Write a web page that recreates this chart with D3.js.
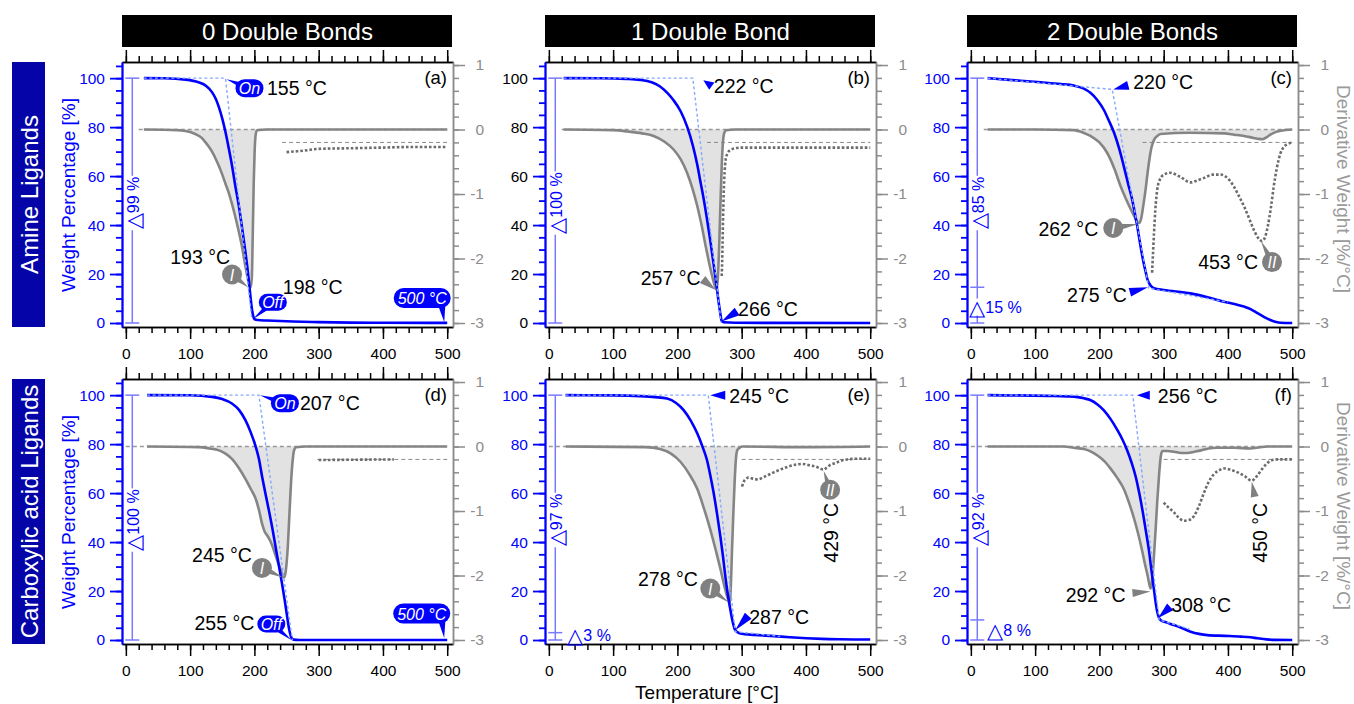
<!DOCTYPE html>
<html><head><meta charset="utf-8">
<script src="https://cdn.jsdelivr.net/npm/d3@7"></script>
<style>body{margin:0;background:#fff;overflow:hidden}svg{display:block}</style>
</head><body><svg id="c" width="1354" height="704"></svg>
<script>
// ---------------- data ----------------
const columnTitles = ["0 Double Bonds", "1 Double Bond", "2 Double Bonds"];
const rowTitles = ["Amine Ligands", "Carboxylic acid Ligands"];
const panelLetters = ["(a)", "(b)", "(c)", "(d)", "(e)", "(f)"];
const xTicks = [0, 100, 200, 300, 400, 500];
const yLeftTicks = [0, 20, 40, 60, 80, 100];
const yRightTicks = [1, 0, -1, -2, -3];

// TGA weight curves [T, weight %]
const tga_a = [[28,100],[60,99.95],[93,99.4],[113,98.3],[125,96.8],[134,94.3],[140,91.5],[145,88],[150,83.5],[155,78],[160,71.5],[165,64.5],[170,56.5],[176,47.5],[181,38.5],[186,29],[190,20.5],[193,13],[196,6],[198,3],[200,1.6],[205,1.2],[220,1.0],[260,0.6],[300,0.35],[350,0.15],[400,0.1],[500,0.05]];
const tga_b = [[23,100],[80,99.95],[120,99.7],[142,99.3],[160,98.3],[173,96.6],[185,93.8],[194,91],[205,86.5],[215,80.3],[224,72.5],[231,64.5],[236,57.5],[241,50.5],[246,42.5],[251,34],[255,26.5],[259,19],[262,13],[265,7],[267,3.5],[269,0.8],[272,0.3],[290,0.1],[500,0]];
const tga_c = [[26,100],[60,99.3],[109,98.3],[140,97.6],[160,97],[175,95.8],[186,94],[197,91],[207,87],[215,82.5],[223,77.6],[231,71],[238,64],[245,56.5],[251,50.4],[255,45],[259,39.4],[263,33],[267,27],[271,22],[275,17.6],[280,15.2],[285,14.2],[300,13.5],[342,12.1],[370,10.4],[394,8.7],[410,7.8],[425,6.7],[436,5.6],[446,4],[456,2.5],[466,1.2],[475,0.4],[482,0.1],[500,0]];
const tga_d = [[33,100],[100,99.95],[134,99.3],[150,98.4],[165,96.6],[176,94],[186,89.8],[194,85],[202,79],[207,74],[212,66.7],[217,60],[222.5,53],[228,45.5],[233,38],[238,30.5],[243,23],[247,16.5],[251,9.5],[254,4.5],[256,2.2],[258,0.7],[261,0.15],[270,0],[500,0]];
const tga_e = [[26,100],[100,99.9],[142,99.6],[165,99.2],[184,98.6],[198,96.8],[210,93.8],[221,89.5],[231,84.3],[239,79],[246,73.5],[251,67.5],[256.5,59.9],[262,51],[267,42],[271,34],[274.6,25.9],[278.5,18.5],[282.5,12.2],[286,7.5],[290,4],[294,3.1],[298,2.7],[320,2.1],[350,1.6],[375,1.1],[401,0.7],[425,0.45],[453,0.3],[500,0.2]];
const tga_f = [[26,100],[120,99.7],[150,99.5],[166,99.2],[176,98.7],[186.5,97.9],[197,96.2],[207,93.8],[218,90],[228,85.7],[236,81.8],[243,77.6],[250,72.5],[256.5,66.7],[262,60],[267,53],[272,45],[277,36.7],[281,28.5],[285,20.4],[288,14.5],[290.5,10.9],[293,8.9],[296,8],[305,7.1],[316,6.1],[330,4.7],[342,3.4],[355,2.5],[368,2],[395,1.7],[420,1.4],[435,1.1],[446,0.7],[460,0.25],[472,0.05],[500,0]];

// DTG derivative curves [T, %/°C]
const dtg_a = [[28,0],[80,-0.01],[100,-0.04],[110,-0.08],[118,-0.13],[124,-0.2],[130,-0.28],[135,-0.36],[140,-0.46],[145,-0.57],[150,-0.7],[155,-0.84],[160,-0.98],[165,-1.15],[170,-1.34],[175,-1.55],[180,-1.78],[186,-2.12],[190,-2.32],[194,-2.45],[196,-2.3],[197.5,-1.6],[199,-0.8],[200.5,-0.3],[202,-0.08],[204,-0.01],[220,0],[500,0]];
const dtg_b = [[23,0],[100,-0.01],[122,-0.03],[145,-0.06],[163,-0.1],[180,-0.19],[194,-0.31],[205,-0.46],[215,-0.67],[223,-0.9],[231,-1.19],[238,-1.5],[244,-1.81],[249,-2.05],[254,-2.27],[258,-2.42],[261,-2.48],[263,-2.3],[265,-1.8],[267,-1.15],[269,-0.55],[271,-0.18],[273,-0.05],[276,-0.01],[290,0],[500,0]];
const dtg_c = [[26,0],[100,0],[160,-0.01],[175,-0.05],[186,-0.1],[200,-0.2],[212,-0.36],[223,-0.6],[233,-0.88],[241,-1.07],[249,-1.24],[255,-1.36],[259,-1.43],[262,-1.45],[265,-1.38],[268,-1.2],[272,-0.92],[275,-0.67],[278,-0.45],[281,-0.28],[285,-0.16],[290,-0.1],[295,-0.07],[340,-0.05],[394,-0.06],[410,-0.08],[425,-0.1],[440,-0.13],[448,-0.145],[454,-0.15],[460,-0.12],[466,-0.08],[474,-0.04],[482,-0.02],[500,0]];
const dtg_d = [[33,0],[113,-0.01],[130,-0.03],[145,-0.06],[155,-0.11],[165,-0.19],[175,-0.32],[186,-0.5],[195,-0.67],[202,-0.81],[207,-0.98],[212,-1.2],[216,-1.32],[220,-1.38],[225,-1.47],[230,-1.6],[235,-1.75],[240.5,-1.9],[244,-2.0],[246,-2.03],[248,-1.98],[250,-1.82],[252,-1.55],[254,-1.15],[256,-0.75],[258,-0.4],[260,-0.17],[262,-0.05],[265,-0.01],[280,0],[500,0]];
const dtg_e = [[26,0],[150,-0.01],[173,-0.04],[190,-0.11],[205,-0.24],[218,-0.42],[231,-0.66],[241,-0.95],[251,-1.28],[260,-1.62],[267,-1.9],[272,-2.12],[277,-2.31],[280,-2.4],[281.5,-2.42],[283,-2.2],[285,-1.6],[287,-1.05],[289,-0.56],[291,-0.2],[293,-0.06],[297,-0.02],[301,0],[400,-0.01],[500,0]];
const dtg_f = [[26,0],[145,0],[160,-0.02],[176,-0.04],[187,-0.08],[197,-0.14],[208,-0.23],[218,-0.35],[228,-0.49],[238,-0.66],[246,-0.87],[254,-1.12],[261,-1.38],[267,-1.64],[271,-1.83],[275,-2.0],[278,-2.15],[279.5,-2.2],[281.5,-2.12],[283.5,-1.9],[285.5,-1.6],[287.7,-1.25],[290,-0.85],[293,-0.42],[295.5,-0.15],[298,-0.07],[305,-0.07],[316,-0.08],[327,-0.1],[337,-0.1],[348,-0.08],[358,-0.06],[370,-0.03],[383,-0.02],[410,-0.02],[435,-0.03],[450,-0.01],[461,0],[500,0]];

// magnified DTG (dotted) [T, value]
const mag_a = [[250,-0.35],[262,-0.34],[275,-0.33],[290,-0.31],[300,-0.3],[350,-0.29],[400,-0.28],[450,-0.27],[500,-0.27]];
const mag_b = [[269,-2.27],[270,-1.9],[271,-1.4],[272,-1.0],[273.5,-0.65],[275,-0.47],[278,-0.37],[282,-0.32],[290,-0.29],[300,-0.28],[400,-0.28],[500,-0.28]];
const mag_c = [[282,-2.22],[283.5,-1.9],[285,-1.6],[287,-1.25],[290,-0.93],[294,-0.78],[300,-0.7],[310,-0.67],[325,-0.73],[342,-0.82],[352,-0.79],[363,-0.75],[376,-0.7],[389,-0.7],[400,-0.76],[409,-0.88],[418,-1.05],[425,-1.19],[433,-1.38],[440,-1.55],[447,-1.68],[453,-1.73],[458,-1.66],[462,-1.5],[467,-1.2],[471,-0.9],[476,-0.6],[482,-0.36],[487,-0.27],[492,-0.23],[500,-0.2]];
const mag_d = [[300,-0.21],[350,-0.205],[417,-0.2]];
const mag_e = [[300.6,-0.62],[303,-0.55],[307,-0.5],[311,-0.48],[318,-0.5],[325,-0.51],[335,-0.47],[350,-0.4],[370,-0.32],[385,-0.28],[395,-0.27],[405,-0.29],[415,-0.31],[422,-0.34],[427.5,-0.36],[432,-0.33],[437,-0.29],[445,-0.26],[455,-0.22],[464,-0.2],[480,-0.19],[500,-0.19]];
const mag_f = [[300,-0.87],[308,-0.95],[316,-1.02],[323,-1.1],[331,-1.15],[339,-1.14],[347,-1.08],[355,-0.92],[363,-0.71],[370,-0.55],[378,-0.43],[386,-0.37],[394,-0.34],[404,-0.36],[415,-0.4],[426,-0.46],[437,-0.53],[445,-0.46],[453,-0.35],[460,-0.27],[466,-0.22],[475,-0.2],[482,-0.2],[500,-0.2]];

// onset / offset tangent constructions [T, weight %]
const tan_a = [[28,100],[155,100],[196,1.5]];
const tan_b = [[23,100],[224,100],[268,0.2]];
const tan_c = [[26,100],[220,95.4],[277,14.2],[400,8.5]];
const tan_d = [[33,100],[207,100],[259,0]];
const tan_e = [[26,100],[248,100],[290,3.4],[360,1.5]];
const tan_f = [[26,100],[252,100],[293,8.2],[340,4.5]];

const magBaseValue = -0.2;
const magBaseStart = [243, 246, 267, 298, 300, 300];
const zeroLineStart = [20, 20, 20, 0, 0, 0];

const lossLevels = [[100,0],[100,0],[100,14.6,0],[100,0],[100,3,0],[100,8.2,0]];
const totalLoss = ["99 %", "100 %", "85 %", "100 %", "97 %", "92 %"];
const residueLoss = [null, null, "15 %", null, "3 %", "8 %"];

const onsetLabels = ["155 °C", "222 °C", "220 °C", "207 °C", "245 °C", "256 °C"];
const offsetLabels = ["198 °C", "266 °C", "275 °C", "255 °C", "287 °C", "308 °C"];
const peak1Labels = ["193 °C", "257 °C", "262 °C", "245 °C", "278 °C", "292 °C"];
const peak2Labels = [null, null, "453 °C", null, "429 °C", "450 °C"];
const endLabel = "500 °C";

// ---------------- drawing ----------------
const FONT = '"Liberation Sans", Arial, Helvetica, sans-serif';
const BLUE = '#0000ff', GRAY = '#858585', RGRAY = '#8c8c8c';
const svg = d3.select('#c').attr('font-family', FONT);
const colLeft = [122, 545, 967], rowTop = [62, 379], FW = 331, FH = 265;

const panels = [
  {tga:tga_a, dtg:dtg_a, mag:mag_a, tan:tan_a},
  {tga:tga_b, dtg:dtg_b, mag:mag_b, tan:tan_b},
  {tga:tga_c, dtg:dtg_c, mag:mag_c, tan:tan_c},
  {tga:tga_d, dtg:dtg_d, mag:mag_d, tan:tan_d},
  {tga:tga_e, dtg:dtg_e, mag:mag_e, tan:tan_e},
  {tga:tga_f, dtg:dtg_f, mag:mag_f, tan:tan_f}
];

const xMinor = d3.range(0, 501, 20);
const yLeftMinor = d3.range(0, 106, 5);
const yRightMinor = d3.range(-15, 6).map(k => k / 5);

function tri(g, tip, base, w, color) {
  const dx = tip[0] - base[0], dy = tip[1] - base[1], L = Math.hypot(dx, dy) || 1;
  const px = -dy / L * w / 2, py = dx / L * w / 2;
  g.append('path')
    .attr('d', `M${tip[0]},${tip[1]}L${base[0] + px},${base[1] + py}L${base[0] - px},${base[1] - py}Z`)
    .attr('fill', color);
}
function bubble(g, c, w, h, tip, text, fs, base) {
  tri(g, tip, base || c, h * 0.45, BLUE);
  g.append('rect').attr('x', c[0] - w / 2).attr('y', c[1] - h / 2).attr('width', w).attr('height', h)
    .attr('rx', h / 2).attr('fill', BLUE);
  g.append('text').attr('x', c[0]).attr('y', c[1] + 0.5).attr('text-anchor', 'middle')
    .attr('dominant-baseline', 'central').attr('font-style', 'italic').attr('font-size', fs || 16)
    .attr('fill', '#fff').text(text);
}
function circ(g, c, r, tip, text) {
  tri(g, tip, c, 8, '#808080');
  g.append('circle').attr('cx', c[0]).attr('cy', c[1]).attr('r', r).attr('fill', '#808080');
  g.append('text').attr('x', c[0]).attr('y', c[1] + 0.5).attr('text-anchor', 'middle')
    .attr('dominant-baseline', 'central').attr('font-style', 'italic').attr('font-size', 16)
    .attr('fill', '#fff').text(text);
}
function label(g, x, y, text, anchor) {
  g.append('text').attr('x', x).attr('y', y).attr('text-anchor', anchor)
    .attr('dominant-baseline', 'central').attr('font-size', 19.5).attr('fill', '#000').text(text);
}
function rlabel(g, x, y, text) {
  g.append('text').attr('transform', `translate(${x},${y}) rotate(-90)`).attr('text-anchor', 'middle')
    .attr('dominant-baseline', 'central').attr('font-size', 19.5).attr('fill', '#000').text(text);
}
function styleAx(g, color, w) {
  g.attr('color', color).attr('font-family', FONT).attr('font-size', 15);
  g.selectAll('path.domain, .tick line').attr('stroke-width', w);
}

// column titles
columnTitles.forEach((t, c) => {
  svg.append('rect').attr('x', colLeft[c]).attr('y', 15).attr('width', FW - 1).attr('height', 32).attr('fill', '#000');
  svg.append('text').attr('x', colLeft[c] + FW / 2).attr('y', 31.5).attr('text-anchor', 'middle')
    .attr('dominant-baseline', 'central').attr('font-size', 24).attr('fill', '#fff').text(t);
});
// row titles
rowTitles.forEach((t, r) => {
  svg.append('rect').attr('x', 12).attr('y', rowTop[r]).attr('width', 33).attr('height', FH).attr('fill', '#0404a8');
  svg.append('text').attr('transform', `translate(29,${rowTop[r] + FH / 2}) rotate(-90)`)
    .attr('text-anchor', 'middle').attr('dominant-baseline', 'central').attr('font-size', 24)
    .attr('fill', '#fff').text(t);
});

for (let r = 0; r < 2; r++) for (let c = 0; c < 3; c++) {
  const i = r * 3 + c, L = colLeft[c], T = rowTop[r], P = panels[i];
  const x = d3.scaleLinear().domain([-6, 509]).range([L, L + FW]);
  const yL = d3.scaleLinear().domain([-1.63, 106.6]).range([T + FH, T]);
  const yR = d3.scaleLinear().domain([-3.062, 1.047]).range([T + FH, T]);
  const g = svg.append('g');

  // --- curves ---
  g.append('path').datum(P.dtg)
    .attr('d', d3.area().x(d => x(d[0])).y0(yR(0)).y1(d => yR(d[1])).curve(d3.curveMonotoneX))
    .attr('fill', '#e2e2e2');
  g.append('path').datum([[zeroLineStart[i], 0], [500, 0]])
    .attr('d', d3.line().x(d => x(d[0])).y(d => yR(d[1])))
    .attr('stroke', '#999').attr('stroke-width', 1.3).attr('stroke-dasharray', '4,3').attr('fill', 'none');
  g.append('path').datum([[magBaseStart[i], magBaseValue], [500, magBaseValue]])
    .attr('d', d3.line().x(d => x(d[0])).y(d => yR(d[1])))
    .attr('stroke', '#8a8a8a').attr('stroke-width', 1).attr('stroke-dasharray', '4,3').attr('fill', 'none');
  g.append('path').datum(P.dtg)
    .attr('d', d3.line().x(d => x(d[0])).y(d => yR(d[1])).curve(d3.curveMonotoneX))
    .attr('stroke', GRAY).attr('stroke-width', 2.6).attr('fill', 'none');
  g.append('path').datum(P.mag)
    .attr('d', d3.line().x(d => x(d[0])).y(d => yR(d[1])).curve(d3.curveMonotoneX))
    .attr('stroke', '#6c6c6c').attr('stroke-width', 2.6).attr('stroke-dasharray', '2.6,2').attr('fill', 'none');
  g.append('path').datum(P.tga)
    .attr('d', d3.line().x(d => x(d[0])).y(d => yL(d[1])).curve(d3.curveMonotoneX))
    .attr('stroke', BLUE).attr('stroke-width', 2.6).attr('fill', 'none');
  g.append('path').datum(P.tan)
    .attr('d', d3.line().x(d => x(d[0])).y(d => yL(d[1])))
    .attr('stroke', '#86a9ff').attr('stroke-width', 1.4).attr('stroke-dasharray', '3,2.5').attr('fill', 'none');

  // --- axes ---
  const gt = g.append('g').attr('transform', `translate(0,${T})`);
  gt.call(d3.axisTop(x).tickValues(xMinor).tickSize(6).tickSizeOuter(0).tickFormat(''));
  gt.append('g').call(d3.axisTop(x).tickValues(xTicks).tickSize(12).tickSizeOuter(0).tickFormat(''));
  styleAx(gt, '#000', 1.5);
  const gb = g.append('g').attr('transform', `translate(0,${T + FH})`);
  gb.call(d3.axisBottom(x).tickValues(xMinor).tickSize(6).tickSizeOuter(0).tickFormat(''));
  gb.append('g').call(d3.axisBottom(x).tickValues(xTicks).tickSize(12).tickSizeOuter(0).tickPadding(9).tickFormat(d => String(d)));
  styleAx(gb, '#000', 1.5);
  gb.selectAll('text').attr('font-size', 15.5);

  const gr = g.append('g').attr('transform', `translate(${L + FW},0)`);
  gr.call(d3.axisRight(yR).tickValues(yRightMinor).tickSize(6).tickSizeOuter(0).tickFormat(''));
  gr.append('g').call(d3.axisRight(yR).tickValues(yRightTicks).tickSize(12).tickSizeOuter(0).tickFormat(d => String(d)));
  styleAx(gr, RGRAY, 1.5);
  gr.selectAll('text').attr('text-anchor', 'end').attr('x', 31).attr('font-size', 15.5);

  const gl = g.append('g').attr('transform', `translate(${L},0)`);
  gl.call(d3.axisLeft(yL).tickValues(yLeftMinor).tickSize(6).tickSizeOuter(0).tickFormat(''));
  gl.append('g').call(d3.axisLeft(yL).tickValues(yLeftTicks).tickSize(12).tickSizeOuter(0).tickPadding(5).tickFormat(d => String(d)));
  styleAx(gl, BLUE, 1.8);
  gl.selectAll('text').attr('font-size', 15.5).attr('fill', i === 1 ? '#000' : BLUE);

  // --- delta brackets ---
  const lv = lossLevels[i], xb = x(10);
  g.append('line').attr('x1', xb).attr('x2', xb).attr('y1', yL(lv[0])).attr('y2', yL(lv[lv.length - 1]))
    .attr('stroke', '#7a7aff').attr('stroke-width', 1.5);
  lv.forEach(v => g.append('line').attr('x1', xb - 7).attr('x2', xb + 7).attr('y1', yL(v)).attr('y2', yL(v))
    .attr('stroke', '#7a7aff').attr('stroke-width', 1.5));
  const tg = g.append('g').attr('transform', `translate(${xb + 1},${yL(49)}) rotate(-90)`);
  const bg = tg.append('rect').attr('fill', '#fff');
  const tt = tg.append('text').attr('text-anchor', 'middle').attr('dominant-baseline', 'central').attr('fill', BLUE);
  tt.append('tspan').attr('font-size', 21).text('△');
  tt.append('tspan').attr('font-size', 16).text(totalLoss[i]);
  const bb = tt.node().getBBox();
  bg.attr('x', bb.x - 1).attr('y', bb.y + 3).attr('width', bb.width + 2).attr('height', bb.height - 6);
  if (residueLoss[i]) {
    const rx = {2: xb - 8, 4: xb + 12, 5: xb + 10}[i];
    const ry = {2: yL(6.5), 4: yL(2), 5: yL(4.1)}[i];
    const rg = g.append('g');
    const rb = rg.append('rect').attr('fill', '#fff');
    const rt = rg.append('text').attr('x', rx).attr('y', ry).attr('dominant-baseline', 'central').attr('fill', BLUE);
    rt.append('tspan').attr('font-size', 21).text('△');
    rt.append('tspan').attr('font-size', 16).text(residueLoss[i]);
    const b2 = rt.node().getBBox();
    rb.attr('x', b2.x).attr('y', b2.y + 3).attr('width', 17).attr('height', b2.height - 6);
  }

  // --- annotations ---
  const a = g.append('g');
  const on = [x(P.tan[1][0]), yL(P.tan[1][1])];
  const off = [x(P.tan[2][0]), yL(P.tan[2][1])];
  const m1 = d3.least(P.dtg, d => d[1]);
  const pI = [x(m1[0]), yR(m1[1])];
  const m2 = d3.least(P.mag.filter(d => d[0] > 400), d => d[1]);
  const pII = m2 ? [x(m2[0]), yR(m2[1])] : null;
  const endP = [x(500), yL(0)];
  if (i === 0) {
    bubble(a, [on[0] + 24, on[1] + 10], 28, 18, [on[0] + 1, on[1] + 1], 'On');
    label(a, on[0] + 41.5, on[1] + 10, onsetLabels[i], 'start');
    circ(a, [pI[0] - 18.5, pI[1] - 13], 10, [pI[0] - 2, pI[1]], 'I');
    label(a, pI[0] - 20.5, pI[1] - 31, peak1Labels[i], 'end');
    bubble(a, [off[0] + 21, off[1] - 17], 28, 17, [off[0] + 1, off[1]], 'Off');
    label(a, off[0] + 31, off[1] - 32, offsetLabels[i], 'start');
    bubble(a, [endP[0] - 25, endP[1] - 25], 57, 20, [endP[0] - 3, endP[1] - 1], endLabel, 16, [endP[0] - 6, endP[1] - 22]);
  } else if (i === 1) {
    tri(a, [on[0] + 10.5, on[1] + 2], [on[0] + 19, on[1] + 8], 9, BLUE);
    label(a, on[0] + 21, on[1] + 8, onsetLabels[i], 'start');
    tri(a, [pI[0] - 1, pI[1] + 0.5], [pI[0] - 14, pI[1] - 10], 9, '#808080');
    label(a, pI[0] - 16, pI[1] - 11.5, peak1Labels[i], 'end');
    tri(a, [off[0] + 0.5, off[1] - 1], [off[0] + 16, off[1] - 11], 9, BLUE);
    label(a, off[0] + 17, off[1] - 13.5, offsetLabels[i], 'start');
  } else if (i === 2) {
    tri(a, [on[0] + 1, on[1]], [on[0] + 16, on[1] - 4], 9, BLUE);
    label(a, on[0] + 21, on[1] - 7, onsetLabels[i], 'start');
    circ(a, [pI[0] - 26, pI[1] + 5], 10, [pI[0] - 1, pI[1] + 1], 'I');
    label(a, pI[0] - 41, pI[1] + 6, peak1Labels[i], 'end');
    tri(a, [off[0] - 1, off[1] - 1], [off[0] - 19, off[1] + 4], 9, BLUE);
    label(a, off[0] - 22, off[1] + 7, offsetLabels[i], 'end');
    circ(a, [pII[0] + 10, pII[1] + 21], 10, [pII[0] - 1, pII[1]], 'II');
    label(a, pII[0] - 4, pII[1] + 21, peak2Labels[i], 'end');
  } else if (i === 3) {
    bubble(a, [on[0] + 26, on[1] + 8], 28, 18, [on[0] + 1, on[1]], 'On');
    label(a, on[0] + 41, on[1] + 8, onsetLabels[i], 'start');
    circ(a, [pI[0] - 22, pI[1] - 9.5], 10, [pI[0] - 1, pI[1]], 'I');
    label(a, pI[0] - 32, pI[1] - 22, peak1Labels[i], 'end');
    bubble(a, [off[0] - 21, off[1] - 16], 28, 17, [off[0] - 1, off[1]], 'Off');
    label(a, off[0] - 38, off[1] - 17, offsetLabels[i], 'end');
    bubble(a, [endP[0] - 25.5, endP[1] - 26.5], 57, 20, [endP[0] - 3, endP[1] - 2], endLabel, 16, [endP[0] - 6, endP[1] - 24]);
  } else if (i === 4) {
    tri(a, [on[0] + 2, on[1]], [on[0] + 17, on[1]], 9, BLUE);
    label(a, on[0] + 21, on[1] + 1, onsetLabels[i], 'start');
    circ(a, [pI[0] - 19.5, pI[1] - 14], 10, [pI[0] - 1, pI[1]], 'I');
    label(a, pI[0] - 32, pI[1] - 23.6, peak1Labels[i], 'end');
    tri(a, [off[0], off[1] - 1.5], [off[0] + 13, off[1] - 16], 9, BLUE);
    label(a, off[0] + 14, off[1] - 15, offsetLabels[i], 'start');
    circ(a, [pII[0] + 6.5, pII[1] + 20], 10, [pII[0], pII[1] + 1], 'II');
    rlabel(a, pII[0] + 7, pII[1] + 63, peak2Labels[i]);
  } else {
    tri(a, [on[0] + 4, on[1]], [on[0] + 17, on[1]], 9, BLUE);
    label(a, on[0] + 25, on[1] + 1, onsetLabels[i], 'start');
    tri(a, [pI[0], pI[1] + 3], [pI[0] - 18, pI[1] + 4.5], 8, '#808080');
    label(a, pI[0] - 25, pI[1] + 6.5, peak1Labels[i], 'end');
    tri(a, [off[0] - 1, off[1] - 2], [off[0] + 11, off[1] - 13], 9, BLUE);
    label(a, off[0] + 12, off[1] - 15, offsetLabels[i], 'start');
    tri(a, [pII[0], pII[1] + 1], [pII[0] + 3, pII[1] + 16], 8, '#808080');
    rlabel(a, pII[0] + 8, pII[1] + 52, peak2Labels[i]);
  }

  // panel letter
  g.append('text').attr('x', L + 325).attr('y', T + 15).attr('text-anchor', 'end')
    .attr('dominant-baseline', 'central').attr('font-size', 18.5).attr('fill', '#000').text(panelLetters[i]);

  // axis titles
  if (c === 0) {
    g.append('text').attr('transform', `translate(68.5,${T + 133}) rotate(-90)`).attr('text-anchor', 'middle')
      .attr('dominant-baseline', 'central').attr('font-size', 19).attr('fill', BLUE).text('Weight Percentage [%]');
  }
  if (c === 2) {
    g.append('text').attr('transform', `translate(1343,${T + 127}) rotate(90)`).attr('text-anchor', 'middle')
      .attr('dominant-baseline', 'central').attr('font-size', 19).attr('fill', '#9a9a9a').text('Derivative Weight [%/°C]');
  }
}
svg.append('text').attr('x', 707).attr('y', 692).attr('text-anchor', 'middle').attr('dominant-baseline', 'central')
  .attr('font-size', 19).attr('fill', '#000').text('Temperature [°C]');
</script></body></html>
